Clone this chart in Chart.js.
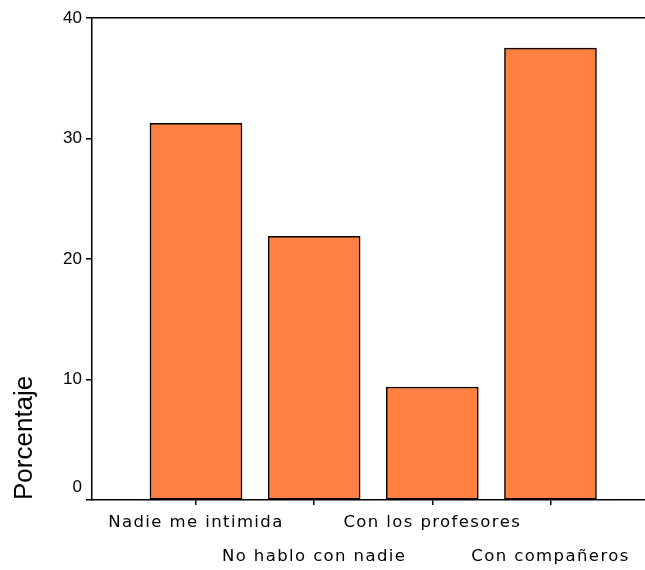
<!DOCTYPE html>
<html>
<head>
<meta charset="utf-8">
<script src="https://cdn.jsdelivr.net/npm/chart.js@4/dist/chart.umd.min.js"></script>
<style>
  html, body { margin: 0; padding: 0; background: #fff; }
  #wrap { width: 645px; height: 570px; }
</style>
</head>
<body>
<div id="wrap"><canvas id="bar-chart"></canvas></div>
<script>
// data
const categories = ['Nadie me intimida', 'No hablo con nadie', 'Con los profesores', 'Con compañeros'];
const percentages = [31.25, 21.875, 9.375, 37.5];
const yTicks = [0, 10, 20, 30, 40];

const points = percentages.map((v, i) => ({ x: i, y: v }));

// the category labels look like an old bitmap font, so give them some letter spacing
// (x tick labels sit on z 1, so they are drawn after the datasets)
const spacingPlugin = {
  id: 'spacing',
  beforeDraw(chart) { chart.ctx.letterSpacing = '0px'; },
  afterDatasetsDraw(chart) { chart.ctx.letterSpacing = '1.4px'; },
  afterDraw(chart) { chart.ctx.letterSpacing = '0px'; }
};

const chartCanvas = document.querySelector('#bar-chart');

const barChart = new Chart(chartCanvas, {
  type: 'bar',
  data: {
    datasets: [{
      data: points,
      backgroundColor: '#FF8040',
      borderColor: '#000',
      borderWidth: 1.5,
      borderSkipped: false,
      barThickness: 92
    }]
  },
  plugins: [spacingPlugin],
  options: {
    responsive: true,
    maintainAspectRatio: false,
    animation: false,
    layout: { padding: { top: 18, right: 0, left: 0, bottom: 0 } },
    plugins: {
      legend: { display: false },
      tooltip: { enabled: false }
    },
    scales: {
      x: {
        type: 'linear',
        offset: false,
        min: -0.88,
        max: 3.8,
        afterBuildTicks: (scale) => {
          scale.ticks = categories.map((c, i) => ({ value: i }));
        },
        afterFit: (scale) => { scale.height = 70; },
        grid: {
          offset: false,
          drawOnChartArea: false,
          color: '#000',
          tickLength: 5,
          lineWidth: 1.5
        },
        border: { color: '#000', width: 1.5 },
        ticks: {
          z: 1,
          color: '#000',
          padding: 0,
          maxRotation: 0,
          autoSkip: false,
          font: { family: 'DejaVu Sans', size: 16.5, lineHeight: 2.1 },
          callback: (value, index) => {
            const label = categories[index];
            return index % 2 === 0 ? [label, ''] : ['', label];
          }
        }
      },
      y: {
        min: 0,
        max: 40,
        afterBuildTicks: (scale) => {
          scale.ticks = yTicks.map(v => ({ value: v }));
        },
        afterFit: (scale) => { scale.width = 92; },
        grid: {
          // only the top line at 40 is drawn across the plot
          color: (ctx) => ctx.tick && ctx.tick.value === 40 ? '#000' : 'rgba(0,0,0,0)',
          tickColor: '#000',
          tickLength: 6,
          lineWidth: 1.5
        },
        border: { color: '#000', width: 1.5 },
        ticks: {
          color: '#000',
          padding: 4,
          font: { family: 'Liberation Sans', size: 17, lineHeight: 1.5 },
          // the 0 label sits a little above the axis line
          callback: (value) => value === 0 ? ['0', ''] : value
        },
        title: {
          display: true,
          text: 'Porcentaje',
          align: 'start',
          color: '#000',
          padding: { top: 9, bottom: 0 },
          font: { family: 'Liberation Sans', size: 26, lineHeight: 1.2 }
        }
      }
    }
  }
});
</script>
</body>
</html>
